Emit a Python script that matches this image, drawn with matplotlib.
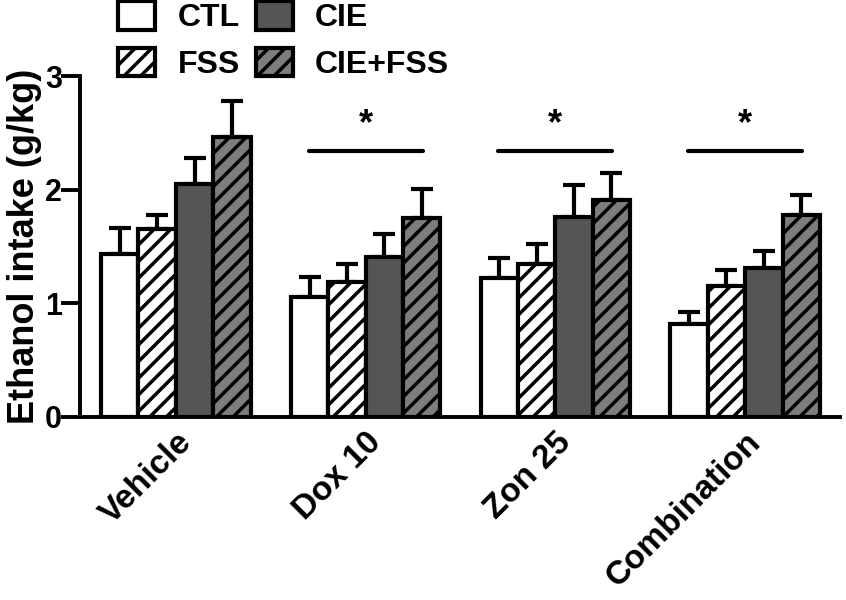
import numpy as np
import matplotlib.pyplot as plt

plt.rcParams["font.family"] = ["Liberation Sans", "DejaVu Sans"]
plt.rcParams["font.weight"] = "bold"
plt.rcParams["hatch.linewidth"] = 2.5

groups = ["Vehicle", "Dox 10", "Zon 25", "Combination"]
series = ["CTL", "FSS", "CIE", "CIE+FSS"]

ctl = [1.43, 1.06, 1.22, 0.82]
fss = [1.65, 1.19, 1.35, 1.15]
cie = [2.05, 1.41, 1.76, 1.31]
cie_fss = [2.46, 1.75, 1.91, 1.78]

ctl_err = [0.23, 0.17, 0.18, 0.10]
fss_err = [0.13, 0.16, 0.17, 0.14]
cie_err = [0.23, 0.20, 0.28, 0.15]
cie_fss_err = [0.32, 0.26, 0.24, 0.17]

sig_groups = [1, 2, 3]
sig_y = 2.34

means = [ctl, fss, cie, cie_fss]
errs = [ctl_err, fss_err, cie_err, cie_fss_err]
fills = ["white", "white", "#555555", "#7d7d7d"]
hatches = [None, "//", None, "//"]

fig, ax = plt.subplots(figsize=(8.46, 6), dpi=100)
fig.subplots_adjust(left=80 / 846, right=840 / 846, bottom=183 / 600, top=524 / 600)

x = np.arange(len(groups))
w = 0.197
handles = []
for i, (m, e) in enumerate(zip(means, errs)):
    pos = x + (i - 1.5) * w
    b = ax.bar(pos, m, w, color=fills[i], edgecolor="black", linewidth=3,
               hatch=hatches[i], label=series[i], zorder=2)
    ax.errorbar(pos, m, yerr=[np.zeros(len(m)), e], fmt="none", ecolor="black",
                elinewidth=3, capsize=8, capthick=3, zorder=1)
    handles.append(b)

for g in sig_groups:
    ax.plot([g - 0.3, g + 0.3], [sig_y, sig_y], color="black", lw=3,
            solid_capstyle="round")
    ax.text(g, sig_y + 0.08, "*", ha="center", va="bottom", fontsize=26,
            fontweight="bold")

ax.set_xlim(-0.505, 3.5)
ax.set_ylim(0, 3)
ax.set_yticks([0, 1, 2, 3])
ax.set_xticks(x)
ax.set_xticklabels(groups, rotation=45, ha="right", rotation_mode="anchor",
                   fontsize=24, fontweight="bold")
ax.tick_params(axis="y", labelsize=22, width=2.8, length=14, pad=-1)
ax.tick_params(axis="x", length=0, pad=7)
for lab in ax.get_yticklabels():
    lab.set_fontweight("bold")
ax.set_ylabel("Ethanol intake (g/kg)", fontsize=26, fontweight="bold", labelpad=2)
for s in ["top", "right"]:
    ax.spines[s].set_visible(False)
for s in ["left", "bottom"]:
    ax.spines[s].set_linewidth(2.8)

fig.legend(handles=handles, labels=series, ncol=2, loc="upper left",
           bbox_to_anchor=(118 / 846, 1 - 1 / 600), frameon=False,
           prop={"size": 23, "weight": "bold"}, handlelength=1.16,
           handleheight=1.0, columnspacing=0.5, handletextpad=0.7,
           labelspacing=0.45, borderpad=0, borderaxespad=0)

fig.savefig("out.png", dpi=100)
